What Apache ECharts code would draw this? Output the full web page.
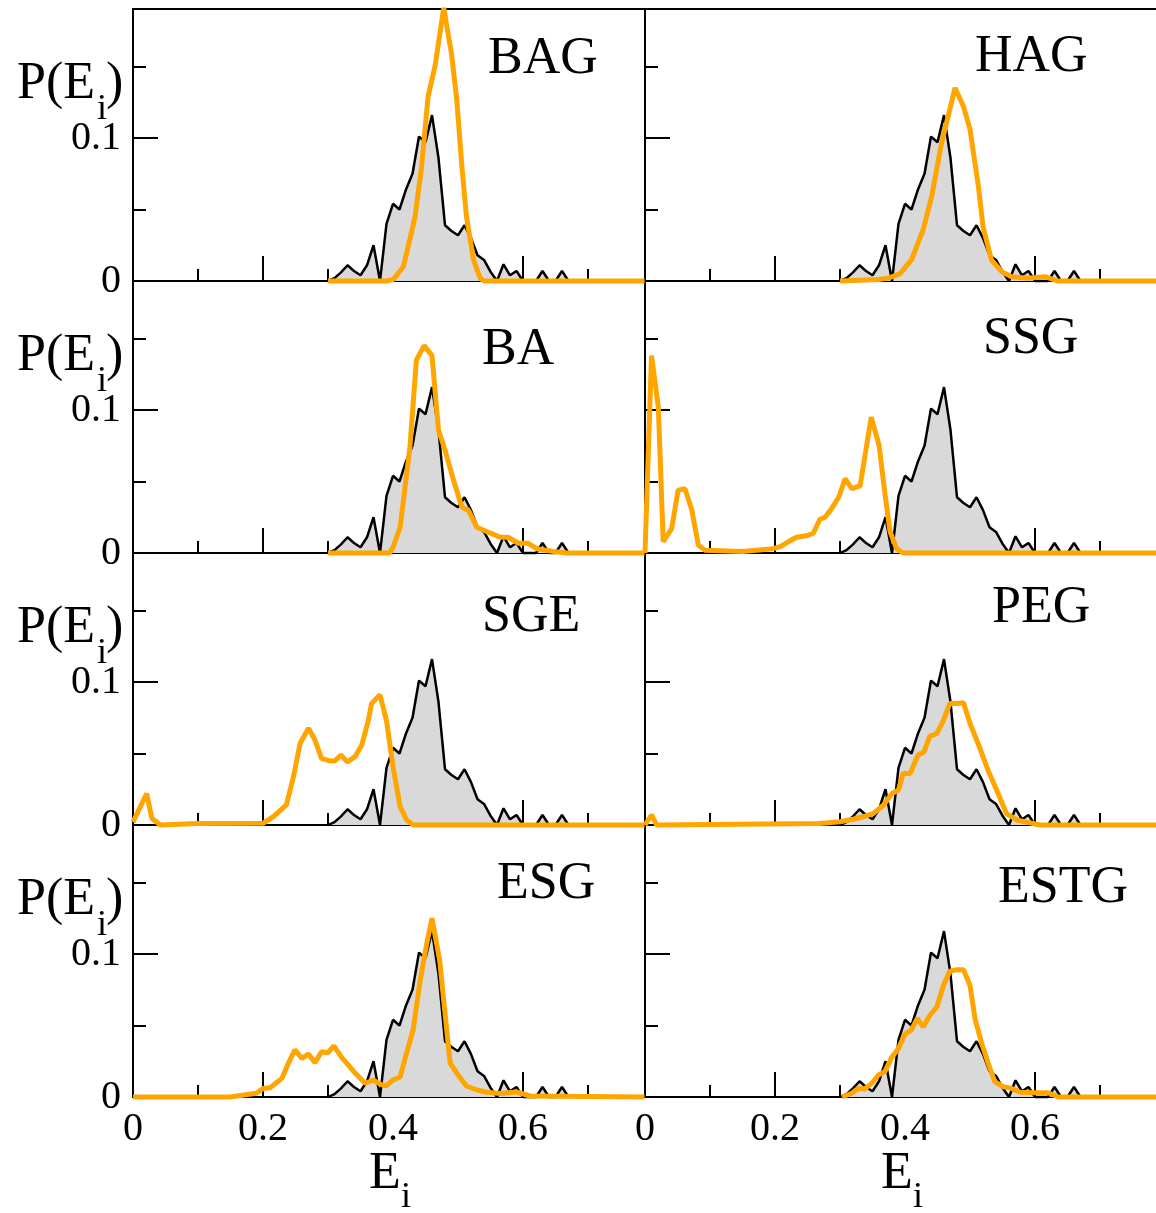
<!DOCTYPE html>
<html>
<head>
<meta charset="utf-8">
<script src="https://cdn.jsdelivr.net/npm/echarts@6/dist/echarts.min.js"></script>
<style>
  html, body { margin: 0; padding: 0; background: #fff; }
  #chart { width: 1156px; height: 1213px; }
</style>
</head>
<body>
<div id="chart"></div>
<script>
// reference distribution (grey, same in every panel)
const refE = [0.30, 0.31, 0.32, 0.33, 0.34, 0.35, 0.36, 0.37, 0.38, 0.39, 0.40, 0.41, 0.42, 0.43, 0.44, 0.45, 0.46, 0.47, 0.48, 0.49,
              0.50, 0.51, 0.52, 0.53, 0.54, 0.55, 0.56, 0.57, 0.58, 0.59, 0.60, 0.61, 0.62, 0.63, 0.64, 0.65, 0.66, 0.67];
const refP = [0, 0.002, 0.006, 0.011, 0.007, 0.004, 0.011, 0.025, 0.0, 0.040, 0.054, 0.050, 0.064, 0.075, 0.101, 0.097, 0.116, 0.086, 0.039, 0.035,
              0.032, 0.039, 0.030, 0.018, 0.0147, 0.0065, 0.0, 0.0117, 0.004, 0.007, 0.0, 0.0, 0.0, 0.007, 0.0, 0.0, 0.007, 0.0];

// orange curves, one per panel
const bagE = [0.30, 0.39, 0.40, 0.416, 0.434, 0.444, 0.454, 0.465, 0.478, 0.490, 0.498, 0.506, 0.513, 0.524, 0.534, 0.54, 0.787];
const bagP = [0, 0, 0.001, 0.010, 0.045, 0.080, 0.129, 0.151, 0.191, 0.159, 0.127, 0.080, 0.045, 0.0147, 0.002, 0, 0];

const hagE = [0.30, 0.359, 0.374, 0.392, 0.410, 0.428, 0.441, 0.456, 0.477, 0.490, 0.50, 0.513, 0.52, 0.533, 0.549, 0.564, 0.589, 0.615, 0.635, 0.787];
const hagP = [0, 0.001, 0.002, 0.005, 0.0147, 0.036, 0.059, 0.096, 0.135, 0.122, 0.106, 0.066, 0.038, 0.0147, 0.0065, 0.003, 0.002, 0.003, 0, 0];

const baE = [0.30, 0.395, 0.40, 0.411, 0.426, 0.436, 0.448, 0.46, 0.47, 0.48, 0.493, 0.506, 0.516, 0.529, 0.544, 0.565, 0.577, 0.593, 0.608, 0.621, 0.647, 0.667, 0.787];
const baP = [0, 0, 0.004, 0.018, 0.074, 0.135, 0.145, 0.138, 0.086, 0.072, 0.051, 0.032, 0.030, 0.018, 0.015, 0.011, 0.011, 0.0068, 0.0068, 0.003, 0.001, 0, 0];

const ssgE = [0, 0.010, 0.0205, 0.028, 0.041, 0.051, 0.0615, 0.072, 0.082, 0.092, 0.15, 0.197, 0.208, 0.221, 0.233, 0.248, 0.259, 0.269, 0.277,
              0.287, 0.298, 0.308, 0.318, 0.331, 0.348, 0.36, 0.369, 0.377, 0.387, 0.397, 0.787];
const ssgP = [0, 0.138, 0.102, 0.008, 0.017, 0.044, 0.045, 0.030, 0.0056, 0.002, 0.001, 0.003, 0.0044, 0.008, 0.011, 0.012, 0.0138, 0.0236, 0.025,
              0.031, 0.039, 0.052, 0.045, 0.047, 0.095, 0.0755, 0.042, 0.015, 0.003, 0, 0];

const sgeE = [0, 0.021, 0.029, 0.042, 0.10, 0.2, 0.216, 0.236, 0.247, 0.257, 0.27, 0.28, 0.29, 0.303, 0.311, 0.32, 0.33, 0.342, 0.352, 0.362,
              0.367, 0.38, 0.39, 0.40, 0.411, 0.421, 0.431, 0.787];
const sgeP = [0.002, 0.022, 0.0047, 0, 0.001, 0.0012, 0.0058, 0.014, 0.034, 0.057, 0.0676, 0.0594, 0.0466, 0.0448, 0.045, 0.049, 0.044, 0.048, 0.056, 0.073,
              0.085, 0.091, 0.073, 0.041, 0.0128, 0.0035, 0, 0];

const pegE = [0, 0.010, 0.018, 0.269, 0.3, 0.32, 0.336, 0.351, 0.367, 0.38, 0.39, 0.397, 0.408, 0.42, 0.429, 0.438, 0.449, 0.459, 0.469, 0.48,
              0.49, 0.5, 0.515, 0.528, 0.541, 0.556, 0.572, 0.587, 0.608, 0.787];
const pegP = [0, 0.007, 0, 0.001, 0.0023, 0.004, 0.0058, 0.008, 0.014, 0.022, 0.0245, 0.036, 0.036, 0.049, 0.051, 0.062, 0.064, 0.073, 0.085, 0.085,
              0.0855, 0.071, 0.054, 0.038, 0.0245, 0.008, 0.0035, 0.002, 0, 0];

const esgE = [0, 0.149, 0.19, 0.2, 0.211, 0.229, 0.239, 0.249, 0.26, 0.27, 0.28, 0.29, 0.30, 0.309, 0.321, 0.331, 0.342, 0.357, 0.37, 0.38,
              0.389, 0.40, 0.411, 0.418, 0.431, 0.442, 0.452, 0.46, 0.472, 0.48, 0.488, 0.5, 0.513, 0.529, 0.544, 0.565, 0.59, 0.611, 0.787];
const esgP = [0, 0, 0.0026, 0.006, 0.0065, 0.013, 0.0236, 0.033, 0.027, 0.030, 0.024, 0.0317, 0.031, 0.0357, 0.0277, 0.0224, 0.0166, 0.0096, 0.0119, 0.009,
              0.0077, 0.0119, 0.014, 0.026, 0.047, 0.082, 0.1075, 0.125, 0.095, 0.0585, 0.0236, 0.0154, 0.0077, 0.0049, 0.0033, 0.0025, 0.0035, 0.0007, 0];

const estgE = [0.303, 0.318, 0.328, 0.338, 0.349, 0.359, 0.369, 0.38, 0.39, 0.40, 0.41, 0.419, 0.428, 0.438, 0.449, 0.459, 0.469, 0.48, 0.49, 0.5,
               0.508, 0.518, 0.528, 0.538, 0.551, 0.564, 0.577, 0.6, 0.62, 0.636, 0.787];
const estgP = [0, 0.0026, 0.006, 0.0056, 0.0096, 0.0154, 0.0177, 0.028, 0.034, 0.044, 0.047, 0.055, 0.049, 0.057, 0.063, 0.078, 0.088, 0.089, 0.089, 0.078,
               0.054, 0.0375, 0.0236, 0.0107, 0.0072, 0.006, 0.0033, 0.003, 0.003, 0, 0];

const panelNames = ['BAG', 'HAG', 'BA', 'SSG', 'SGE', 'PEG', 'ESG', 'ESTG'];
const panelE = [bagE, hagE, baE, ssgE, sgeE, pegE, esgE, estgE];
const panelP = [bagP, hagP, baP, ssgP, sgeP, pegP, esgP, estgP];

// layout (pixels)
const FONT = "'Liberation Serif', 'DejaVu Serif', serif";
const colLeft = [133, 645];
const colWidth = [512, 514];
const rowBottom = [281, 553, 825, 1097];
const rowH = 272;
const pxPerE = 650;      // pixels per unit of E
const yMax = rowH / 1430; // 0.1 -> 143 px
const nameSpot = [[488, 59], [975, 57], [482, 350], [983, 339], [482, 617], [992, 608], [497, 884], [998, 888]];

const chart = echarts.init(document.getElementById('chart'), null, { renderer: 'canvas' });

const grid = [], xAxis = [], yAxis = [], series = [], graphic = [];
const tickStyle = { color: '#000', width: 2 };

function txt(str, x, y, size) {
  graphic.push({
    type: 'text', left: x, top: y - size / 2,
    style: { text: str, font: size + 'px ' + FONT, fill: '#000' }
  });
}

panelNames.forEach((name, i) => {
  const r = Math.floor(i / 2), c = i % 2;
  const xMax = colWidth[c] / pxPerE;
  grid.push({
    left: colLeft[c], top: rowBottom[r] - rowH, width: colWidth[c], height: rowH,
    show: true, borderColor: '#000', borderWidth: 2, backgroundColor: 'transparent',
    containLabel: false, outerBoundsMode: 'none'
  });
  // minor x ticks every 0.1, major every 0.2
  xAxis.push({
    gridIndex: i, type: 'value', min: 0, max: xMax, interval: 0.1, position: 'bottom',
    axisLine: { show: true, lineStyle: tickStyle },
    axisTick: { show: true, inside: true, length: 12, lineStyle: tickStyle },
    axisLabel: { show: false }, splitLine: { show: false }
  });
  xAxis.push({
    gridIndex: i, type: 'value', min: 0, max: xMax, interval: 0.2, position: 'bottom',
    axisLine: { show: false },
    axisTick: { show: true, inside: true, length: 25, lineStyle: tickStyle },
    axisLabel: {
      show: r === 3, margin: 12, color: '#000', fontFamily: FONT, fontSize: 40,
      formatter: v => Math.abs(v / 0.2 - Math.round(v / 0.2)) < 1e-6 ? String(+v.toFixed(1)) : ''
    },
    splitLine: { show: false }
  });
  yAxis.push({
    gridIndex: i, type: 'value', min: 0, max: yMax, interval: 0.05, position: 'left',
    axisLine: { show: true, lineStyle: tickStyle },
    axisTick: { show: true, inside: true, length: 13, lineStyle: tickStyle },
    axisLabel: { show: false }, splitLine: { show: false }
  });
  yAxis.push({
    gridIndex: i, type: 'value', min: 0, max: yMax, interval: 0.1, position: 'left',
    axisLine: { show: false },
    axisTick: { show: true, inside: true, length: 25, lineStyle: tickStyle },
    axisLabel: {
      show: c === 0, margin: 12, color: '#000', fontFamily: FONT, fontSize: 40,
      formatter: v => v === 0 ? '0' : (Math.abs(v - 0.1) < 1e-9 ? '0.1' : '')
    },
    splitLine: { show: false }
  });

  series.push({
    type: 'line', xAxisIndex: 2 * i + 1, yAxisIndex: 2 * i + 1,
    data: refE.map((e, k) => [e, refP[k]]),
    symbol: 'none', clip: false, z: 2,
    lineStyle: { color: '#000', width: 2.5 },
    areaStyle: { color: '#d9d9d9', opacity: 1 }
  });
  series.push({
    type: 'line', xAxisIndex: 2 * i + 1, yAxisIndex: 2 * i + 1,
    data: panelE[i].map((e, k) => [e, panelP[i][k]]),
    symbol: 'none', clip: false, z: 3,
    lineStyle: { color: '#ffa500', width: 5 }
  });

  txt(name, nameSpot[i][0], nameSpot[i][1], 52);
});

// y-axis name P(E_i) on each left panel
for (let r = 0; r < 4; r++) {
  txt('P(E', 17, 84 + rowH * r, 52);
  txt('i', 97, 110 + rowH * r, 36);
  txt(')', 106, 84 + rowH * r, 52);
}
// x-axis name E_i under each bottom panel
[369, 881].forEach(x => {
  txt('E', x, 1174, 52);
  txt('i', x + 32, 1198, 36);
});

chart.setOption({
  backgroundColor: '#fff',
  animation: false,
  grid, xAxis, yAxis, series, graphic
});
</script>
</body>
</html>
